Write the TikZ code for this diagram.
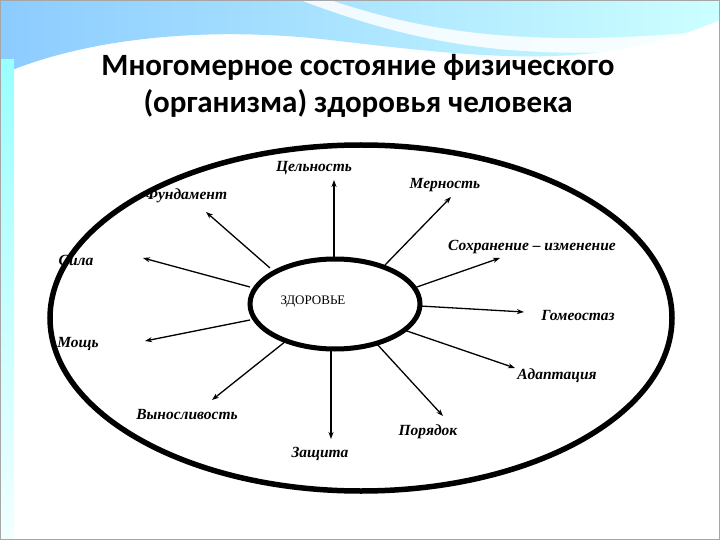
\documentclass[tikz,border=0pt]{standalone}
\usepackage{fontspec}
\setmainfont{Liberation Serif}
\newfontfamily\titlefont{Carlito}
\usetikzlibrary{arrows.meta,shapes.geometric}
\begin{document}
\begin{tikzpicture}[x=1pt,y=-1pt,
  lbl/.style={font=\fontsize{15.5}{18}\selectfont\bfseries\itshape},
  ray/.style={line width=1.3pt,-{Stealth[length=7pt,width=5pt]}}]
\useasboundingbox (0,0) rectangle (720,540);
\fill[white] (0,0) rectangle (720,540);
% background decoration
\shade[left color=cyan!55!blue!45, right color=cyan!20] (0,0) -- (720,0) -- (720,20) .. controls (600,70) and (500,60) .. (330,40) .. controls (200,25) and (80,40) .. (0,75) -- cycle;
\fill[white,opacity=0.85] (330,0) .. controls (420,30) and (520,50) .. (720,30) -- (720,45) .. controls (520,65) and (420,45) .. (300,0) -- cycle;
\shade[top color=cyan!40, bottom color=cyan!5] (0,60) rectangle (14,540);
\draw[gray!70,line width=1pt] (0.5,0.5) rectangle (719.5,539.5);
% title
\node[font=\titlefont\fontsize{31}{37}\selectfont\bfseries, align=center] (title) at (358,86) {Многомерное состояние физического\\(организма) здоровья человека};
% ellipses
\draw[line width=5.5pt] (361,318) ellipse [x radius=311, y radius=173];
\node[draw, line width=5pt, ellipse, minimum width=170pt, minimum height=90pt, inner sep=0pt] (c) at (335,304) {};
\node[font=\fontsize{13}{15}\selectfont] (z) at (313,302) {ЗДОРОВЬЕ};
% labels
\node[lbl] (l1) at (314,168) {Цельность};
\node[lbl] (l2) at (445,185) {Мерность};
\node[lbl] (l3) at (186,196) {Фундамент};
\node[lbl] (l4) at (76,260) {Сила};
\node[lbl] (l5) at (532,247) {Сохранение – изменение};
\node[lbl] (l6) at (578,316) {Гомеостаз};
\node[lbl] (l7) at (78,344) {Мощь};
\node[lbl] (l8) at (557,376) {Адаптация};
\node[lbl] (l9) at (187,415) {Выносливость};
\node[lbl] (l10) at (320,454) {Защита};
\node[lbl] (l11) at (428,432) {Порядок};
% end points
\coordinate (e1) at (334,180);
\coordinate (e2) at (451,197);
\coordinate (e3) at (206,212);
\coordinate (e4) at (143,258);
\coordinate (e5) at (500,258);
\coordinate (e6) at (524,312);
\coordinate (e7) at (145,341);
\coordinate (e8) at (515,368);
\coordinate (e9) at (212,400);
\coordinate (e10) at (331,439);
\coordinate (e11) at (443,416);
\draw[ray] (334,258) -- (e1);
\draw[ray] (385,265) -- (e2);
\draw[ray] (270,268) -- (e3);
\draw[ray] (250,287) -- (e4);
\draw[ray] (414,288) -- (e5);
\draw[ray] (420,306) -- (e6);
\draw[ray] (250,320) -- (e7);
\draw[ray] (404,330) -- (e8);
\draw[ray] (286,341) -- (e9);
\draw[ray] (331,349) -- (e10);
\draw[ray] (376,343) -- (e11);
\end{tikzpicture}
\end{document}
